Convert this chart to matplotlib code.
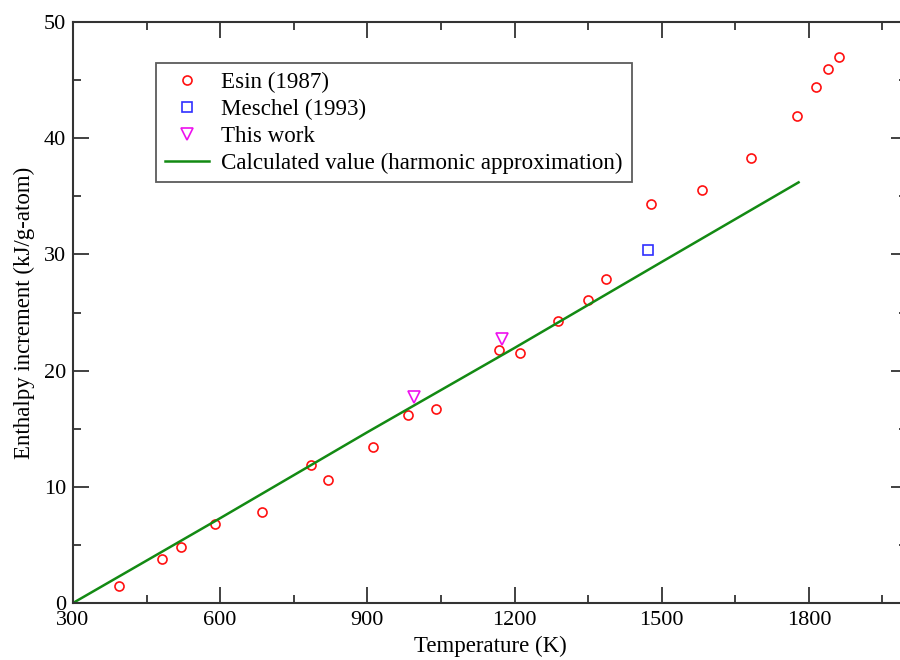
import numpy as np
import matplotlib.pyplot as plt
from matplotlib.ticker import MultipleLocator

plt.rcParams['font.family'] = ['Liberation Serif', 'DejaVu Serif']

# Esin (1987)
esin_T = [394, 482, 520, 590, 686, 785, 819, 912, 982, 1039,
          1169, 1212, 1288, 1349, 1387, 1479, 1582, 1683, 1776, 1814, 1839, 1862]
esin_H = [1.5, 3.75, 4.8, 6.8, 7.8, 11.9, 10.6, 13.4, 16.2, 16.7,
          21.8, 21.5, 24.3, 26.1, 27.9, 34.3, 35.5, 38.3, 41.9, 44.4, 45.95, 47.0]

# Meschel (1993)
meschel_T = [1473]
meschel_H = [30.4]

# This work
this_T = [996, 1175]
this_H = [17.7, 22.7]

# Calculated value (harmonic approximation)
calc_T = [300, 600, 900, 1200, 1500, 1779]
calc_H = [0.0, 7.3, 14.7, 21.95, 29.35, 36.2]

fig = plt.figure(figsize=(9, 6.6), dpi=100)
# axes run slightly past the right edge like the original picture
ax = fig.add_axes([73 / 900, 1 - 603 / 660, 834 / 900, 581 / 660])

ax.plot(esin_T, esin_H, 'o', ls='none', mfc='none', mec='#ff1010', ms=6.5, mew=1.2,
        label='Esin (1987)')
ax.plot(meschel_T, meschel_H, 's', ls='none', mfc='none', mec='#3030ff', ms=6.5, mew=1.2,
        label='Meschel (1993)')
ax.plot(this_T, this_H, 'v', ls='none', mfc='none', mec='#ee10ee', ms=9, mew=1.2,
        label='This work')
ax.plot(calc_T, calc_H, '-', color='#138a13', lw=1.8,
        label='Calculated value (harmonic approximation)')

ax.set_xlim(300, 2000)
ax.set_ylim(0, 50)
ax.xaxis.set_major_locator(MultipleLocator(300))
ax.xaxis.set_minor_locator(MultipleLocator(150))
ax.yaxis.set_major_locator(MultipleLocator(10))
ax.yaxis.set_minor_locator(MultipleLocator(5))
ax.tick_params(which='both', direction='in', top=True, right=True,
               width=1.3, colors='#333333', labelcolor='black', labelsize=16)
ax.tick_params(which='major', length=11.5)
ax.tick_params(axis='x', which='major', pad=6)
ax.tick_params(axis='y', which='major', pad=5)
ax.tick_params(which='minor', length=5.8)
for s in ax.spines.values():
    s.set_linewidth(1.5)
    s.set_color('#333333')

ax.set_xlabel('Temperature (K)', fontsize=16.5, labelpad=4)
ax.set_ylabel('Enthalpy increment (kJ/g-atom)', fontsize=16.5, labelpad=6)

leg = ax.legend(loc='upper left', bbox_to_anchor=(83 / 834, 1 - 41 / 581),
                fontsize=16.6, frameon=True, fancybox=False, edgecolor='#333333',
                handlelength=1.9, handletextpad=0.55, labelspacing=0.25,
                borderpad=0.38, borderaxespad=0)
leg.get_frame().set_linewidth(1.3)

fig.savefig('out.png', dpi=100)
